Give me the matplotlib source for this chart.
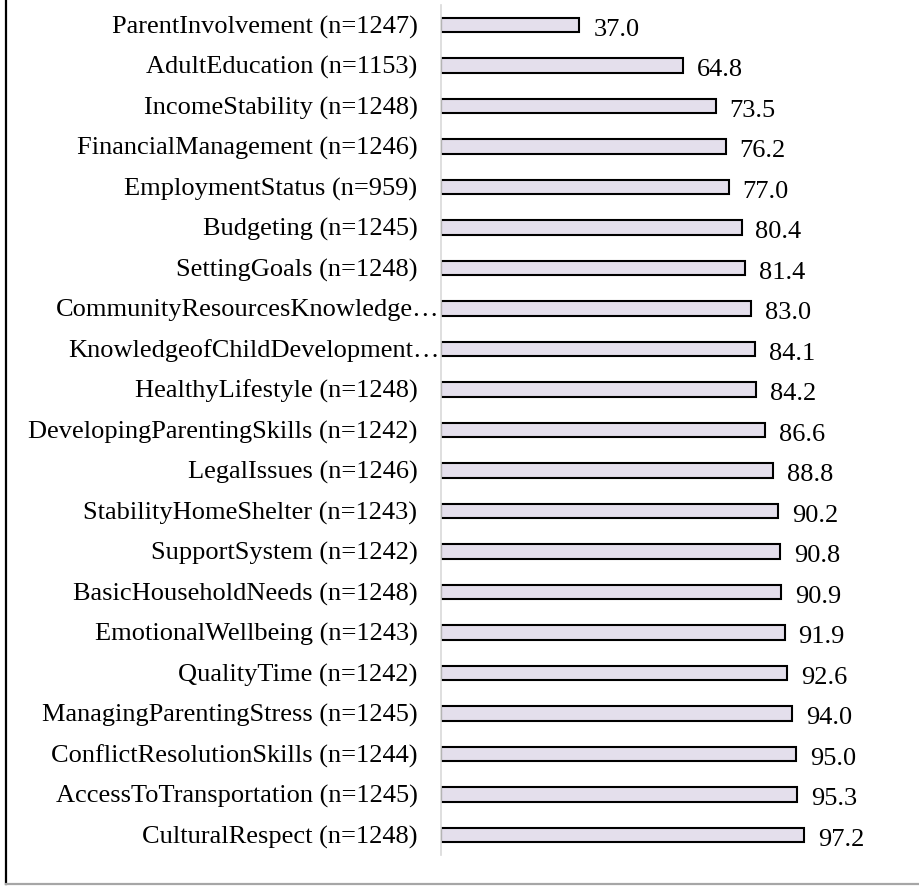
import matplotlib
matplotlib.use("Agg")
import matplotlib.pyplot as plt
from matplotlib.lines import Line2D

labels = [
    "ParentInvolvement (n=1247)",
    "AdultEducation (n=1153)",
    "IncomeStability (n=1248)",
    "FinancialManagement (n=1246)",
    "EmploymentStatus (n=959)",
    "Budgeting (n=1245)",
    "SettingGoals (n=1248)",
    "CommunityResourcesKnowledge\u2026",
    "KnowledgeofChildDevelopment\u2026",
    "HealthyLifestyle (n=1248)",
    "DevelopingParentingSkills (n=1242)",
    "LegalIssues (n=1246)",
    "StabilityHomeShelter (n=1243)",
    "SupportSystem (n=1242)",
    "BasicHouseholdNeeds (n=1248)",
    "EmotionalWellbeing (n=1243)",
    "QualityTime (n=1242)",
    "ManagingParentingStress (n=1245)",
    "ConflictResolutionSkills (n=1244)",
    "AccessToTransportation (n=1245)",
    "CulturalRespect (n=1248)",
]
values = [37.0, 64.8, 73.5, 76.2, 77.0, 80.4, 81.4, 83.0, 84.1, 84.2, 86.6,
          88.8, 90.2, 90.8, 90.9, 91.9, 92.6, 94.0, 95.0, 95.3, 97.2]

plt.rcParams['font.family'] = ['Liberation Serif', 'DejaVu Serif']

W, H = 919, 886
fig = plt.figure(figsize=(W / 100, H / 100), dpi=100)
ax_left, ax_right = 441, 900
ax_top, ax_bottom = 4.75, 855.25
ax = fig.add_axes([ax_left / W, 1 - ax_bottom / H, (ax_right - ax_left) / W, (ax_bottom - ax_top) / H])

ypos = list(range(len(labels)))
ax.barh(ypos, values, height=0.35, color='#E4DFEC', edgecolor='black', linewidth=1.5, left=0)
ax.set_xlim(0, (ax_right - ax_left) / 3.738)
ax.set_ylim(len(labels) - 0.5, -0.5)
ax.set_yticks(ypos)
ax.set_yticklabels([])
ax.tick_params(axis='y', length=0)
ax.set_xticks([])
for s in ['top', 'right', 'bottom']:
    ax.spines[s].set_visible(False)
ax.spines['left'].set_color('#D9D9D9')
ax.spines['left'].set_linewidth(1.2)

for y, lab in zip(ypos, labels):
    off = -1 if lab.endswith("\u2026") else -17
    ax.annotate(lab, xy=(0, y), xycoords=('axes fraction', 'data'),
                xytext=(off, 0.5), textcoords='offset points',
                ha='right', va='center_baseline', fontsize=19)

for y, v in zip(ypos, values):
    ax.annotate(f"{v:.1f}", xy=(v, y), xycoords='data',
                xytext=(10, -1.5), textcoords='offset points',
                ha='left', va='center_baseline', fontsize=19)

# frame lines
fig.add_artist(Line2D([6 / W, 6 / W], [1 - 884 / H, 1.0], transform=fig.transFigure, color='black', linewidth=1.6))
fig.add_artist(Line2D([6 / W, 1.0], [1 - 884 / H, 1 - 884 / H], transform=fig.transFigure, color='#A6A6A6', linewidth=1.6))

fig.savefig("out.png", dpi=100)
